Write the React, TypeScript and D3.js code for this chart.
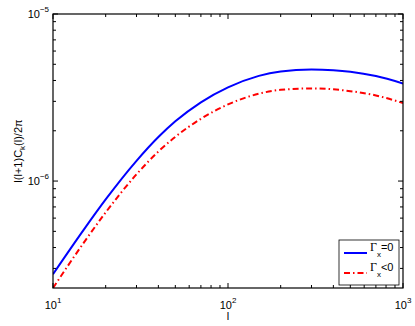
import React from "react";
import * as d3 from "d3";

const ells = [10, 15, 20, 30, 40, 50, 70, 100, 150, 200, 300, 400, 500, 700, 1000];
const gammaZero = [2.77e-7, 5.12e-7, 7.76e-7, 1.321e-6, 1.834e-6, 2.278e-6, 2.96e-6, 3.635e-6, 4.26e-6, 4.53e-6, 4.66e-6, 4.61e-6, 4.51e-6, 4.25e-6, 3.84e-6];
const gammaNeg = [2.29e-7, 4.28e-7, 6.49e-7, 1.097e-6, 1.502e-6, 1.839e-6, 2.358e-6, 2.875e-6, 3.332e-6, 3.516e-6, 3.585e-6, 3.54e-6, 3.453e-6, 3.255e-6, 2.931e-6];
const xMajor = [10, 100, 1000];
const xMajorExp = ["1", "2", "3"];
const yMajor = [1e-5, 1e-6];
const yMajorExp = ["\u22125", "\u22126"];
const legendLabels = ["=0", "<0"];

const W = 415, H = 326;
const M = { left: 53, right: 403, top: 14, bottom: 288 };
const FONT = "'Liberation Sans', Arial, Helvetica, sans-serif";
const SERIF = "'Liberation Serif', 'Times New Roman', serif";

export default function App() {
  const x = d3.scaleLog().domain([10, 1000]).range([M.left, M.right]);
  const y = d3.scaleLog().domain([2.29e-7, 1e-5]).range([M.bottom, M.top]);

  const line = (vals: number[]) =>
    d3
      .line<number>()
      .x((_, i) => x(ells[i]))
      .y((v) => y(v))
      .curve(d3.curveMonotoneX)(vals) as string;

  const xMinor: number[] = [];
  [10, 100].forEach((b) => {
    for (let k = 2; k <= 9; k++) xMinor.push(b * k);
  });
  const yMinor: number[] = [];
  [1e-7, 1e-6].forEach((b) => {
    for (let k = 2; k <= 9; k++) {
      const v = b * k;
      if (v >= 2.29e-7 && v <= 1e-5) yMinor.push(v);
    }
  });

  const majL = 5, minL = 3;

  return (
    <svg
      width={W}
      height={H}
      style={{ position: "absolute", left: 0, top: 0, background: "#fff" }}
      fontFamily={FONT}
    >
      <rect x={0} y={0} width={W} height={H} fill="#fff" />
      <defs>
        <clipPath id="plotclip">
          <rect x={M.left} y={M.top} width={M.right - M.left} height={M.bottom - M.top} />
        </clipPath>
      </defs>
      <g clipPath="url(#plotclip)">
        <path d={line(gammaZero)} fill="none" stroke="#0000ff" strokeWidth={2} />
        <path
          d={line(gammaNeg)}
          fill="none"
          stroke="#ff0000"
          strokeWidth={2}
          strokeDasharray="6,3,1.5,3"
        />
      </g>
      <rect
        x={M.left}
        y={M.top}
        width={M.right - M.left}
        height={M.bottom - M.top}
        fill="none"
        stroke="#000"
        strokeWidth={1.2}
      />
      {xMinor.map((t) => (
        <g key={"xm" + t}>
          <line x1={x(t)} x2={x(t)} y1={M.bottom} y2={M.bottom - minL} stroke="#000" />
          <line x1={x(t)} x2={x(t)} y1={M.top} y2={M.top + minL} stroke="#000" />
        </g>
      ))}
      {xMajor.map((t, i) => (
        <g key={"xM" + t}>
          <line x1={x(t)} x2={x(t)} y1={M.bottom} y2={M.bottom - majL} stroke="#000" />
          <line x1={x(t)} x2={x(t)} y1={M.top} y2={M.top + majL} stroke="#000" />
          <text x={x(t)} y={309} fontSize={11} textAnchor="middle" fill="#000">
            10
            <tspan fontSize={8} dy={-6}>
              {xMajorExp[i]}
            </tspan>
          </text>
        </g>
      ))}
      {yMinor.map((t) => (
        <g key={"ym" + t}>
          <line x1={M.left} x2={M.left + minL} y1={y(t)} y2={y(t)} stroke="#000" />
          <line x1={M.right} x2={M.right - minL} y1={y(t)} y2={y(t)} stroke="#000" />
        </g>
      ))}
      {yMajor.map((t, i) => (
        <g key={"yM" + t}>
          <line x1={M.left} x2={M.left + majL} y1={y(t)} y2={y(t)} stroke="#000" />
          <line x1={M.right} x2={M.right - majL} y1={y(t)} y2={y(t)} stroke="#000" />
          <text x={49} y={y(t) + 4} fontSize={11} textAnchor="end" fill="#000">
            10
            <tspan fontSize={8} dy={-6}>
              {yMajorExp[i]}
            </tspan>
          </text>
        </g>
      ))}
      <text x={228} y={320} fontSize={11} textAnchor="middle" fill="#000">
        l
      </text>
      <text
        transform={`translate(22,151) rotate(-90)`}
        fontSize={11}
        textAnchor="middle"
        fill="#000"
      >
        l(l+1)C
        <tspan fontSize={8} dy={3}>
          k
        </tspan>
        <tspan dy={-3}>(l)/2π</tspan>
      </text>
      <rect x={339} y={240} width={60} height={45} fill="#fff" stroke="#000" strokeWidth={0.8} />
      {[0, 1].map((i) => {
        const ly = 253 + i * 20;
        return (
          <g key={"lg" + i}>
            <line
              x1={344}
              x2={367}
              y1={ly}
              y2={ly}
              stroke={i === 0 ? "#0000ff" : "#ff0000"}
              strokeWidth={2}
              strokeDasharray={i === 0 ? undefined : "6,3,1.5,3"}
            />
            <text x={370} y={ly - 2} fontSize={11} fill="#000">
              <tspan fontFamily={SERIF} fontSize={12}>Γ</tspan>
              <tspan fontSize={8} dy={6}>
                x
              </tspan>
              <tspan dy={-6}>{legendLabels[i]}</tspan>
            </text>
          </g>
        );
      })}
    </svg>
  );
}
